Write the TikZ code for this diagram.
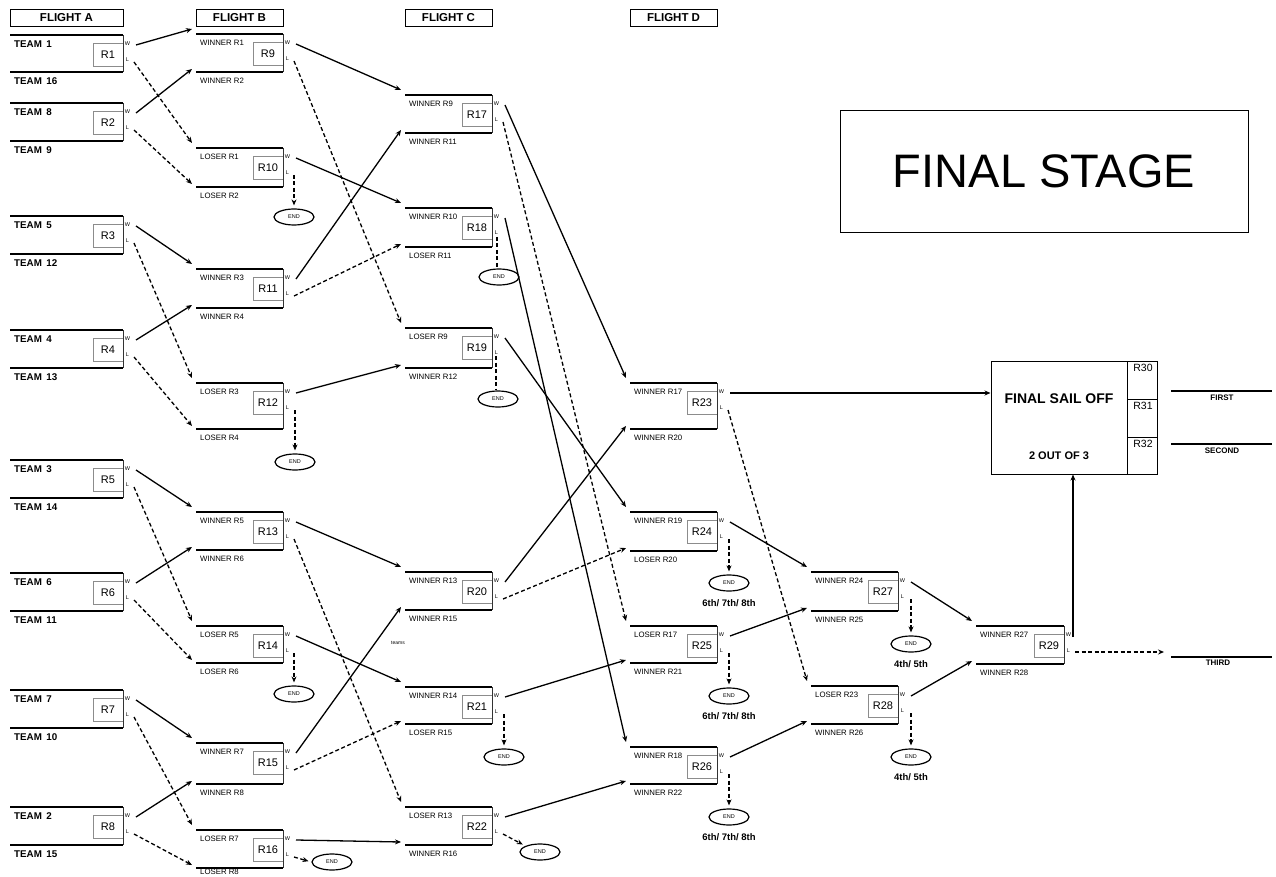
\documentclass[tikz,border=0pt]{standalone}
\usepackage{fontspec}
\setmainfont{Liberation Sans}
\usetikzlibrary{arrows.meta,shapes.geometric}
\newcommand\fs[1]{\fontsize{#1}{#1}\selectfont}
\newcommand\tm[1]{{\fs{9.8}\bfseries TEAM\hspace{4.5pt}#1}}
\newcommand\mblock[8]{%
  \node[rbox] (#1) at (#3-15,#4+19.5) {#6};
  \draw[mline] (#2,#4) -- (#3,#4);
  \draw[mline] (#2,#5) -- (#3,#5);
  \draw[vline] (#3,#4) -- (#3,#5);
  \node[wl] (#1W) at (#3+4.5,#4+9) {W};
  \node[wl] (#1L) at (#3+4.5,#4+25) {L};
  \node[lbl] (#1t) at (#2+4,#4+9) {#7};
  \node[lbl] (#1b) at (#2+4,#5+9) {#8};
  \coordinate (#1ow) at (#3+13,#4+10);
  \coordinate (#1ol) at (#3+11,#4+27);
  \coordinate (#1it) at (#2-4,#4-5);
  \coordinate (#1ib) at (#2-4,#5-3);
}
\begin{document}
\begin{tikzpicture}[x=1pt,y=-1pt,
  mline/.style={line width=2.2pt},
  vline/.style={line width=1pt,black!80},
  rbox/.style={draw=black!45,line width=0.7pt,fill=white,minimum width=30pt,minimum height=23pt,inner sep=0pt,font=\fs{11}},
  wl/.style={font=\fs{5.5},inner sep=0pt},
  lbl/.style={anchor=west,font=\fs{7.8},inner sep=0pt},
  sarr/.style={line width=1.3pt,-{Stealth[length=6pt,width=5pt]}},
  darr/.style={sarr,dash pattern=on 4pt off 2.5pt},
  dline/.style={line width=1.3pt,dash pattern=on 4pt off 2.5pt},
  endn/.style={ellipse,draw,line width=1.2pt,minimum width=40pt,minimum height=16pt,inner sep=0pt,font=\fs{5.5}},
  place/.style={font=\fs{9.5}\bfseries,inner sep=0pt},
  hdr/.style={draw,line width=0.9pt,minimum height=17pt,inner sep=0pt,font=\fs{11.5}\bfseries},
  pl/.style={line width=1.6pt},
  pll/.style={font=\fs{8}\bfseries,inner sep=0pt}]
\useasboundingbox (0,0) rectangle (1276,877);
\fill[white] (0,0) rectangle (1276,877);
% headers
\node[hdr,minimum width=113pt] (fa) at (66.5,18) {FLIGHT A};
\node[hdr,minimum width=87pt] (fb) at (239.5,18) {FLIGHT B};
\node[hdr,minimum width=87pt] (fc) at (448.5,18) {FLIGHT C};
\node[hdr,minimum width=87pt] (fd) at (673.5,18) {FLIGHT D};
% flight A
\mblock{R1}{10}{123}{35}{72}{R1}{\tm{1}}{\tm{16}}
\mblock{R2}{10}{123}{103}{141}{R2}{\tm{8}}{\tm{9}}
\mblock{R3}{10}{123}{216}{254}{R3}{\tm{5}}{\tm{12}}
\mblock{R4}{10}{123}{330}{368}{R4}{\tm{4}}{\tm{13}}
\mblock{R5}{10}{123}{460}{498}{R5}{\tm{3}}{\tm{14}}
\mblock{R6}{10}{123}{573}{611}{R6}{\tm{6}}{\tm{11}}
\mblock{R7}{10}{123}{690}{728}{R7}{\tm{7}}{\tm{10}}
\mblock{R8}{10}{123}{807}{845}{R8}{\tm{2}}{\tm{15}}
% flight B
\mblock{R9}{196}{283}{34}{72}{R9}{WINNER R1}{WINNER R2}
\mblock{R10}{196}{283}{148}{187}{R10}{LOSER R1}{LOSER R2}
\mblock{R11}{196}{283}{269}{308}{R11}{WINNER R3}{WINNER R4}
\mblock{R12}{196}{283}{383}{429}{R12}{LOSER R3}{LOSER R4}
\mblock{R13}{196}{283}{512}{550}{R13}{WINNER R5}{WINNER R6}
\mblock{R14}{196}{283}{626}{663}{R14}{LOSER R5}{LOSER R6}
\mblock{R15}{196}{283}{743}{784}{R15}{WINNER R7}{WINNER R8}
\mblock{R16}{196}{283}{830}{868}{R16}{LOSER R7}{}
\node[lbl] (R16b2) at (200,872) {LOSER R8};
% flight C
\mblock{R17}{405}{492}{95}{133}{R17}{WINNER R9}{WINNER R11}
\mblock{R18}{405}{492}{208}{247}{R18}{WINNER R10}{LOSER R11}
\mblock{R19}{405}{492}{328}{368}{R19}{LOSER R9}{WINNER R12}
\mblock{R20}{405}{492}{572}{610}{R20}{WINNER R13}{WINNER R15}
\mblock{R21}{405}{492}{687}{724}{R21}{WINNER R14}{LOSER R15}
\mblock{R22}{405}{492}{807}{845}{R22}{LOSER R13}{WINNER R16}
% flight D
\mblock{R23}{630}{717}{383}{429}{R23}{WINNER R17}{WINNER R20}
\mblock{R24}{630}{717}{512}{551}{R24}{WINNER R19}{LOSER R20}
\mblock{R25}{630}{717}{626}{663}{R25}{LOSER R17}{WINNER R21}
\mblock{R26}{630}{717}{747}{784}{R26}{WINNER R18}{WINNER R22}
% later
\mblock{R27}{811}{898}{572}{611}{R27}{WINNER R24}{WINNER R25}
\mblock{R28}{811}{898}{686}{724}{R28}{LOSER R23}{WINNER R26}
\mblock{R29}{976}{1064}{626}{664}{R29}{WINNER R27}{WINNER R28}
% END nodes
\node[endn] (e10) at (294,217) {END};
\node[endn] (e12) at (295,462) {END};
\node[endn] (e14) at (294,694) {END};
\node[endn] (e16) at (332,862) {END};
\node[endn] (e18) at (499,277) {END};
\node[endn] (e19) at (498,399) {END};
\node[endn] (e21) at (504,757) {END};
\node[endn] (e22) at (540,852) {END};
\node[endn] (e24) at (729,583) {END};
\node[endn] (e25) at (729,696) {END};
\node[endn] (e26) at (729,817) {END};
\node[endn] (e27) at (911,644) {END};
\node[endn] (e28) at (911,757) {END};
\node[place] (p24) at (729,603) {6th/ 7th/ 8th};
\node[place] (p25) at (729,716) {6th/ 7th/ 8th};
\node[place] (p26) at (729,837) {6th/ 7th/ 8th};
\node[place] (p27) at (911,664) {4th/ 5th};
\node[place] (p28) at (911,777) {4th/ 5th};
\node[font=\fs{5},inner sep=0pt] (teams) at (398,643) {teams};
% final stage
\node[draw,line width=0.8pt,minimum width=408pt,minimum height=122pt,inner sep=0pt,font=\fs{47}] (fst) at (1044,171) {FINAL STAGE};
\node[draw,line width=1pt,minimum width=166pt,minimum height=113pt,inner sep=0pt] (fso) at (1074,417.5) {};
\draw[line width=1pt] (1127,361) -- (1127,474);
\draw[line width=1pt] (1127,399) -- (1157,399);
\draw[line width=1pt] (1127,437) -- (1157,437);
\node[font=\fs{14}\bfseries,inner sep=0pt] (fsot) at (1059,399) {FINAL SAIL OFF};
\node[font=\fs{11}\bfseries,inner sep=0pt] (fsob) at (1059,456) {2 OUT OF 3};
\node[font=\fs{10.5},inner sep=0pt] (r30) at (1143,368) {R30};
\node[font=\fs{10.5},inner sep=0pt] (r31) at (1143,406) {R31};
\node[font=\fs{10.5},inner sep=0pt] (r32) at (1143,444) {R32};
% places
\coordinate (f1) at (1171,391); \coordinate (f2) at (1272,391);
\coordinate (s1) at (1171,444); \coordinate (s2) at (1272,444);
\coordinate (t1) at (1171,657); \coordinate (t2) at (1272,657);
\draw[pl] (f1) -- (f2); \draw[pl] (s1) -- (s2); \draw[pl] (t1) -- (t2);
\node[pll] (first) at (1222,398) {FIRST};
\node[pll] (second) at (1222,451) {SECOND};
\node[pll] (third) at (1218,663) {THIRD};
% A -> B
\draw[sarr] (R1ow) -- (R9it);   \draw[darr] (R1ol) -- (R10it);
\draw[sarr] (R2ow) -- (R9ib);   \draw[darr] (R2ol) -- (R10ib);
\draw[sarr] (R3ow) -- (R11it);  \draw[darr] (R3ol) -- (R12it);
\draw[sarr] (R4ow) -- (R11ib);  \draw[darr] (R4ol) -- (R12ib);
\draw[sarr] (R5ow) -- (R13it);  \draw[darr] (R5ol) -- (R14it);
\draw[sarr] (R6ow) -- (R13ib);  \draw[darr] (R6ol) -- (R14ib);
\draw[sarr] (R7ow) -- (R15it);  \draw[darr] (R7ol) -- (R16it);
\draw[sarr] (R8ow) -- (R15ib);  \draw[darr] (R8ol) -- (R16ib);
% B -> C
\draw[sarr] (R9ow) -- (R17it);  \draw[darr] (R9ol) -- (R19it);
\draw[sarr] (R10ow) -- (R18it); \draw[darr,shorten >=3pt] (e10.north |- R10ol) -- (e10.north);
\draw[sarr] (R11ow) -- (R17ib); \draw[darr] (R11ol) -- (R18ib);
\draw[sarr] (R12ow) -- (R19ib); \draw[darr,shorten >=3pt] (e12.north |- R12ol) -- (e12.north);
\draw[sarr] (R13ow) -- (R20it); \draw[darr] (R13ol) -- (R22it);
\draw[sarr] (R14ow) -- (R21it); \draw[darr,shorten >=3pt] (e14.north |- R14ol) -- (e14.north);
\draw[sarr] (R15ow) -- (R20ib); \draw[darr] (R15ol) -- (R21ib);
\draw[sarr] (R16ow) -- (R22ib); \draw[darr,shorten >=3pt] (R16ol) -- (e16.west);
% C -> D
\coordinate (R18d) at (497,237);
\coordinate (R19d) at (496,356);
\draw[sarr] (R17ow) -- (R23it); \draw[darr] (R17ol) -- (R25it);
\draw[sarr] (R18ow) -- (R26it); \draw[dline] (R18d) -- (R18d |- e18.north);
\draw[sarr] (R19ow) -- (R24it); \draw[dline] (R19d) -- (R19d |- e19.north);
\draw[sarr] (R20ow) -- (R23ib); \draw[darr] (R20ol) -- (R24ib);
\draw[sarr] (R21ow) -- (R25ib); \draw[darr,shorten >=3pt] (e21.north |- R21ol) -- (e21.north);
\draw[sarr] (R22ow) -- (R26ib); \draw[darr,shorten >=3pt] (R22ol) -- (e22.north west);
% D -> E
\draw[sarr] (R23ow) -- (fso.west |- R23ow); \draw[darr] (R23ol) -- (R28it);
\draw[sarr] (R24ow) -- (R27it); \draw[darr,shorten >=3pt] (e24.north |- R24ol) -- (e24.north);
\draw[sarr] (R25ow) -- (R27ib); \draw[darr,shorten >=3pt] (e25.north |- R25ol) -- (e25.north);
\draw[sarr] (R26ow) -- (R28ib); \draw[darr,shorten >=3pt] (e26.north |- R26ol) -- (e26.north);
% E -> final
\draw[sarr] (R27ow) -- (R29it); \draw[darr,shorten >=3pt] (e27.north |- R27ol) -- (e27.north);
\draw[sarr] (R28ow) -- (R29ib); \draw[darr,shorten >=3pt] (e28.north |- R28ol) -- (e28.north);
\coordinate (R29up) at (1073,637);
\draw[sarr] (R29up) -- (R29up |- fso.south);
\coordinate (R29lo) at (1075,652);
\coordinate (thtip) at (1164,652);
\draw[darr] (R29lo) -- (thtip);
\end{tikzpicture}
\end{document}
